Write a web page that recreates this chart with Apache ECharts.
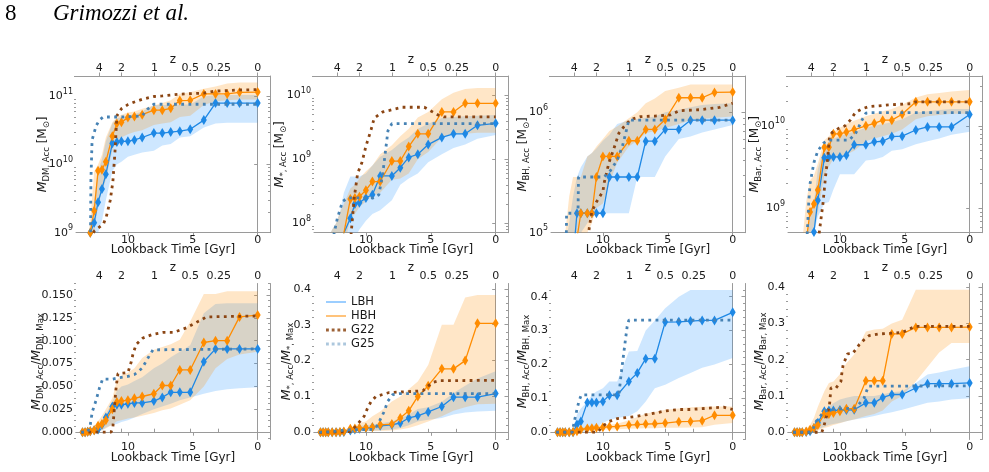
<!DOCTYPE html>
<html>
<head>
<meta charset="utf-8">
<title>Grimozzi et al. - accreted mass</title>
<script src="https://cdn.jsdelivr.net/npm/echarts@6/dist/echarts.min.js"></script>
<style>
  html, body { margin: 0; padding: 0; background: #fff; }
  #main { width: 989px; height: 472px; }
</style>
</head>
<body>
<div id="main"></div>
<script>
// lookback time of the simulation snapshots [Gyr]
var snapT = [13.5, 13.3, 13.1, 12.9, 12.6, 12.3, 12.0, 11.7, 11.2, 10.85, 10.5, 10.0, 9.5, 8.9, 8.0, 7.35, 6.7, 6.0, 5.2, 4.15, 3.25, 2.35, 1.4, 0];
// redshift ticks on the top axis
var zTickT = [12.2, 10.5, 7.95, 5.2, 3.0, 0];
var zTickLabels = ['4', '2', '1', '0.5', '0.25', '0'];

// ---- M_DM,Acc
var dmAccLBH = [1e8, 2e8, 4e8, 1.0e9, 1.4e9, 2.8e9, 4.4e9, 7.2e9, 2.05e10, 2.15e10, 2.2e10, 2.2e10, 2.3e10, 2.5e10, 2.9e10, 2.9e10, 3.0e10, 3.1e10, 3.3e10, 4.5e10, 8.0e10, 8.0e10, 8.0e10, 8.0e10];
var dmAccHBH = [1e8, 2e8, 5e8, 1.0e9, 2.1e9, 8.1e9, 8.4e9, 1.1e10, 2.6e10, 4.0e10, 4.2e10, 4.9e10, 5.1e10, 5.4e10, 6.3e10, 6.3e10, 6.7e10, 8.7e10, 8.8e10, 1.09e11, 1.09e11, 1.09e11, 1.15e11, 1.16e11];
var dmAccLBHLo = [3e7, 6e7, 1.5e8, 4e8, 7e8, 1.0e9, 1.5e9, 3.0e9, 8e9, 1.0e10, 1.1e10, 1.3e10, 1.4e10, 1.5e10, 1.6e10, 1.9e10, 2.0e10, 2.5e10, 2.6e10, 3.5e10, 4.0e10, 4.1e10, 4.1e10, 4.1e10];
var dmAccLBHHi = [3e8, 5e8, 8e8, 1.2e9, 3e9, 8e9, 1.2e10, 2.2e10, 4.0e10, 4.8e10, 5.0e10, 5.2e10, 5.5e10, 6.0e10, 7.5e10, 7.5e10, 7.5e10, 7.6e10, 7.6e10, 1.0e11, 1.05e11, 1.05e11, 1.05e11, 1.05e11];
var dmAccHBHLo = [3e7, 6e7, 1.5e8, 6e8, 1.0e9, 2.5e9, 4e9, 6e9, 1.6e10, 2.3e10, 2.5e10, 2.8e10, 3.0e10, 3.2e10, 3.8e10, 4.0e10, 4.2e10, 5.0e10, 5.2e10, 7.5e10, 8.5e10, 8.8e10, 9e10, 9e10];
var dmAccHBHHi = [3e8, 5e8, 8e8, 1.5e9, 8e9, 1.0e10, 1.4e10, 2.5e10, 4.2e10, 5.0e10, 5.4e10, 5.8e10, 6.0e10, 6.6e10, 7.4e10, 8.0e10, 8.8e10, 1.1e11, 1.15e11, 1.3e11, 1.4e11, 1.55e11, 1.6e11, 1.6e11];
var g22tDmAcc = [12.9, 12.57, 11.88, 11.67, 11.36, 11.16, 11.0, 10.85, 10.5, 10.0, 9.5, 8.9, 8.0, 7.35, 6.7, 6.0, 5.2, 4.15, 3.25, 2.35, 1.4, 0];
var g22DmAcc = [8e8, 1.07e9, 1.35e9, 1.7e9, 3.0e9, 5.6e9, 1.5e10, 5.2e10, 6.6e10, 7.6e10, 8.3e10, 9.1e10, 1.0e11, 1.02e11, 1.05e11, 1.08e11, 1.1e11, 1.12e11, 1.2e11, 1.22e11, 1.25e11, 1.26e11];
var g25tDmAcc = [13.0, 12.88, 12.85, 12.76, 12.45, 12.2, 11.9, 11.2, 10.5, 9.5, 8.9, 8.5, 8.0, 0];
var g25DmAcc = [3e8, 1e9, 6e9, 2.3e10, 3.7e10, 4.5e10, 5.0e10, 5.0e10, 5.0e10, 5.1e10, 5.2e10, 6.5e10, 7.7e10, 7.7e10];

// ---- M_*,Acc
var starAccLBH = [1e7, 1.5e7, 2e7, 2.5e7, 3e7, 4e7, 5e7, 7e7, 1.2e8, 2.0e8, 2.1e8, 2.5e8, 2.8e8, 5.5e8, 5.5e8, 7.4e8, 1.07e9, 1.2e9, 1.7e9, 2.2e9, 2.5e9, 2.5e9, 3.4e9, 3.65e9];
var starAccHBH = [1e7, 1.5e7, 2e7, 2.5e7, 3e7, 4e7, 5e7, 7e7, 2.4e8, 2.5e8, 2.6e8, 3.3e8, 4.5e8, 4.5e8, 9.4e8, 9.4e8, 1.58e9, 2.5e9, 2.5e9, 5.5e9, 5.5e9, 7.5e9, 7.5e9, 7.5e9];
var starAccLBHLo = [5e6, 8e6, 1e7, 1.5e7, 2e7, 2.5e7, 3e7, 4e7, 5e7, 6e7, 8e7, 1.1e8, 1.4e8, 1.6e8, 2.3e8, 4e8, 5e8, 6e8, 9e8, 1.2e9, 1.5e9, 1.7e9, 2.1e9, 2.4e9];
var starAccLBHHi = [3e7, 4e7, 5e7, 6e7, 8e7, 1e8, 1.5e8, 3e8, 5.4e8, 5.4e8, 5.4e8, 6e8, 8e8, 1.1e9, 1.4e9, 1.8e9, 2.2e9, 3e9, 3.6e9, 4.4e9, 4.6e9, 4.7e9, 4.8e9, 4.9e9];
var starAccHBHLo = [5e6, 8e6, 1e7, 1.5e7, 2e7, 2.5e7, 3e7, 4e7, 1.2e8, 1.4e8, 1.8e8, 2.2e8, 2.7e8, 3e8, 4.8e8, 5e8, 6e8, 1.0e9, 1.3e9, 2.2e9, 2.5e9, 2.5e9, 2.6e9, 2.6e9];
var starAccHBHHi = [3e7, 4e7, 5e7, 6e7, 8e7, 1e8, 1.5e8, 2e8, 3.5e8, 4e8, 5e8, 6.5e8, 8e8, 1.2e9, 1.66e9, 2.3e9, 3.0e9, 4.5e9, 5.5e9, 8.7e9, 1.1e10, 1.25e10, 1.3e10, 1.3e10];
var g22tStarAcc = [11.2, 10.9, 10.64, 10.3, 10.0, 9.6, 9.36, 8.7, 7.2, 5.5, 4.5, 4.0, 0];
var g22StarAcc = [5e7, 2.5e8, 6e8, 9e8, 1.6e9, 2.9e9, 4.4e9, 5.5e9, 6.5e9, 6.5e9, 5.0e9, 4.6e9, 4.6e9];
var g25tStarAcc = [12.6, 12.2, 11.8, 11.4, 9.4, 9.0, 8.7, 8.5, 8.3, 8.0, 0];
var g25StarAcc = [5e7, 1.2e8, 2.2e8, 2.5e8, 2.5e8, 2.8e8, 6e8, 1.3e9, 2.8e9, 3.6e9, 3.6e9];

// ---- M_BH,Acc
var bhAccLBH = [2e4, 2.5e4, 3e4, 4e4, 5e4, 6e4, 1.45e5, 1.45e5, 1.45e5, 1.45e5, 1.45e5, 1.45e5, 2.9e5, 2.9e5, 2.9e5, 2.9e5, 5.75e5, 5.75e5, 7.2e5, 7.2e5, 8.6e5, 8.6e5, 8.6e5, 8.6e5];
var bhAccHBH = [2e4, 2.5e4, 3e4, 4e4, 5e4, 6e4, 9e4, 1.45e5, 1.45e5, 1.45e5, 2.9e5, 4.3e5, 4.3e5, 4.3e5, 5.8e5, 5.8e5, 7.2e5, 7.2e5, 8.7e5, 1.32e6, 1.32e6, 1.32e6, 1.46e6, 1.47e6];
var bhAccLBHLo = [1e4, 1e4, 1.5e4, 2e4, 3e4, 4e4, 7e4, 1.0e5, 1.2e5, 1.45e5, 1.45e5, 1.45e5, 1.45e5, 1.45e5, 1.45e5, 2.9e5, 2.9e5, 2.9e5, 4.3e5, 6.0e5, 6.3e5, 6.8e5, 7.2e5, 7.85e5];
var bhAccLBHHi = [3e4, 4e4, 6e4, 8e4, 1.2e5, 2e5, 2.9e5, 3.5e5, 4.3e5, 4.6e5, 5e5, 5.8e5, 6.5e5, 8e5, 8.6e5, 8.8e5, 9e5, 9.2e5, 1.0e6, 1.05e6, 1.1e6, 1.15e6, 1.17e6, 1.19e6];
var bhAccHBHLo = [1e4, 1e4, 1.5e4, 2e4, 3e4, 4e4, 6e4, 8e4, 1.0e5, 1.2e5, 1.6e5, 1.75e5, 2.6e5, 3.8e5, 5.2e5, 5.8e5, 6.7e5, 7.0e5, 7.4e5, 8e5, 8.6e5, 8.8e5, 9e5, 9.2e5];
var bhAccHBHHi = [3e4, 4e4, 6e4, 1e5, 2e5, 2.9e5, 2.9e5, 2.9e5, 4.3e5, 4.6e5, 5.2e5, 6.0e5, 7.0e5, 7.6e5, 8.9e5, 1.0e6, 1.19e6, 1.3e6, 1.5e6, 1.6e6, 1.7e6, 1.7e6, 1.7e6, 1.7e6];
var g22tBhAcc = [11.3, 11.0, 10.85, 10.5, 10.0, 9.9, 9.54, 9.15, 8.77, 8.38, 7.87, 7.1, 6.0, 4.8, 4.1, 2.5, 1.0, 0];
var g22BhAcc = [7e4, 1.2e5, 1.5e5, 1.8e5, 2.2e5, 2.6e5, 3.8e5, 5.0e5, 6.7e5, 7.6e5, 8.7e5, 9.2e5, 9.3e5, 9.5e5, 1.03e6, 1.05e6, 1.1e6, 1.19e6];
var g25tBhAcc = [12.85, 12.8, 12.3, 11.92, 11.88, 9.9, 9.4, 8.9, 8.5, 8.2, 8.0, 0];
var g25BhAcc = [5e4, 1.45e5, 1.45e5, 1.45e5, 2.9e5, 2.9e5, 3.3e5, 4.0e5, 5.2e5, 7.0e5, 8.6e5, 8.6e5];

// ---- M_Bar,Acc
var barAccLBH = [5e7, 8e7, 1e8, 1.5e8, 2e8, 3e8, 5.2e8, 1.26e9, 4.1e9, 4.2e9, 4.2e9, 4.2e9, 4.4e9, 5.9e9, 5.9e9, 6.4e9, 6.5e9, 7.4e9, 7.5e9, 8.9e9, 9.7e9, 9.7e9, 9.7e9, 1.37e10];
var barAccHBH = [5e7, 8e7, 1e8, 2e8, 4e8, 9.1e8, 1.13e9, 1.67e9, 5.5e9, 5.5e9, 8.0e9, 8.0e9, 8.4e9, 9.0e9, 1.0e10, 1.07e10, 1.17e10, 1.17e10, 1.38e10, 1.95e10, 1.95e10, 1.95e10, 1.95e10, 1.95e10];
var barAccLBHLo = [2e7, 3e7, 5e7, 8e7, 1.5e8, 3e8, 5e8, 8e8, 1.15e9, 1.2e9, 1.7e9, 2.6e9, 2.6e9, 2.6e9, 3.8e9, 3.9e9, 4.2e9, 5e9, 5.2e9, 6e9, 6.5e9, 7e9, 7.8e9, 8.5e9];
var barAccLBHHi = [5e7, 8e7, 1e8, 2e8, 4e8, 8e8, 1.2e9, 3e9, 5.5e9, 6.5e9, 7e9, 7.5e9, 8e9, 8.5e9, 9.5e9, 1.0e10, 1.05e10, 1.1e10, 1.2e10, 1.45e10, 1.5e10, 1.55e10, 1.6e10, 1.6e10];
var barAccHBHLo = [3e7, 5e7, 8e7, 1e8, 2e8, 5e8, 6e8, 9e8, 2.5e9, 3.2e9, 4e9, 4.3e9, 4.5e9, 5e9, 6.5e9, 7e9, 7.5e9, 8e9, 9e9, 1.2e10, 1.3e10, 1.35e10, 1.4e10, 1.4e10];
var barAccHBHHi = [1e8, 1.5e8, 2.5e8, 4e8, 1.2e9, 2.2e9, 2.5e9, 3.5e9, 6.7e9, 7.5e9, 8.5e9, 9.5e9, 1.05e10, 1.15e10, 1.3e10, 1.4e10, 1.5e10, 1.6e10, 1.8e10, 2.2e10, 2.4e10, 2.5e10, 2.6e10, 2.7e10];
var g22tBarAcc = [11.6, 11.3, 11.1, 10.95, 10.8, 10.6, 10.1, 9.6, 9.2, 8.8, 8.3, 7.8, 6.0, 4.5, 4.15, 0];
var g22BarAcc = [5e8, 1.17e9, 2.5e9, 4e9, 7.4e9, 8.3e9, 9.3e9, 1e10, 1.17e10, 1.45e10, 1.6e10, 1.7e10, 1.8e10, 1.85e10, 1.95e10, 1.95e10];
var g25tBarAcc = [12.55, 12.47, 12.4, 12.3, 12.0, 11.7, 11.25, 10.9, 9.3, 8.8, 8.3, 8.0, 7.75, 0];
var g25BarAcc = [4e8, 7e8, 1.2e9, 2e9, 3.6e9, 5e9, 6.2e9, 6.7e9, 6.7e9, 8e9, 1.17e10, 1.42e10, 1.44e10, 1.44e10];

// ---- M_DM,Acc / M_DM,Max
var dmFracLBH = [0, 0, 0.0005, 0.001, 0.002, 0.003, 0.008, 0.016, 0.028, 0.030, 0.030, 0.031, 0.032, 0.032, 0.034, 0.038, 0.0436, 0.0436, 0.0436, 0.077, 0.091, 0.091, 0.091, 0.091];
var dmFracHBH = [0, 0, 0.0005, 0.001, 0.002, 0.007, 0.009, 0.013, 0.025, 0.033, 0.034, 0.035, 0.037, 0.039, 0.042, 0.051, 0.051, 0.068, 0.068, 0.098, 0.1, 0.1, 0.126, 0.128];
var dmFracLBHLo = [0, 0, 0, 0, 0.0005, 0.001, 0.002, 0.005, 0.008, 0.009, 0.011, 0.013, 0.016, 0.02, 0.025, 0.028, 0.031, 0.035, 0.038, 0.042, 0.045, 0.047, 0.048, 0.049];
var dmFracLBHHi = [0.001, 0.001, 0.002, 0.003, 0.005, 0.008, 0.012, 0.02, 0.033, 0.045, 0.05, 0.052, 0.056, 0.06, 0.07, 0.075, 0.082, 0.088, 0.095, 0.13, 0.14, 0.141, 0.141, 0.141];
var dmFracHBHLo = [0, 0, 0, 0, 0.0005, 0.001, 0.002, 0.004, 0.008, 0.012, 0.013, 0.015, 0.016, 0.018, 0.021, 0.024, 0.026, 0.03, 0.035, 0.05, 0.07, 0.08, 0.085, 0.088];
var dmFracHBHHi = [0.001, 0.001, 0.002, 0.004, 0.006, 0.012, 0.018, 0.025, 0.037, 0.057, 0.062, 0.065, 0.07, 0.081, 0.09, 0.093, 0.096, 0.101, 0.121, 0.151, 0.151, 0.154, 0.154, 0.154];
var g22tDmFrac = [13.6, 11.3, 11.16, 11.0, 10.9, 10.77, 10.0, 9.74, 9.6, 9.36, 8.84, 8.07, 7.3, 6.5, 5.5, 4.85, 3.94, 0];
var g22DmFrac = [0, 0, 0.005, 0.034, 0.05, 0.064, 0.065, 0.077, 0.086, 0.096, 0.103, 0.107, 0.109, 0.109, 0.114, 0.119, 0.126, 0.127];
var g25tDmFrac = [13.6, 13.1, 12.9, 12.75, 12.45, 12.2, 11.95, 11.2, 10.5, 10.0, 9.5, 8.9, 8.5, 8.07, 0];
var g25DmFrac = [0, 0, 0.008, 0.022, 0.035, 0.048, 0.058, 0.058, 0.06, 0.061, 0.063, 0.07, 0.08, 0.09, 0.091];

// ---- M_*,Acc / M_*,Max
var starFracLBH = [0, 0, 0, 0, 0, 0, 0, 0.001, 0.005, 0.008, 0.01, 0.012, 0.014, 0.018, 0.021, 0.026, 0.04, 0.046, 0.057, 0.072, 0.098, 0.098, 0.098, 0.108];
var starFracHBH = [0, 0, 0, 0, 0, 0, 0.001, 0.002, 0.01, 0.011, 0.012, 0.013, 0.014, 0.021, 0.023, 0.04, 0.06, 0.1, 0.13, 0.177, 0.177, 0.2, 0.304, 0.304];
var starFracLBHLo = [0, 0, 0, 0, 0, 0, 0, 0, 0.001, 0.002, 0.003, 0.004, 0.005, 0.006, 0.008, 0.012, 0.02, 0.03, 0.035, 0.04, 0.05, 0.055, 0.058, 0.06];
var starFracLBHHi = [0.001, 0.001, 0.001, 0.002, 0.002, 0.003, 0.004, 0.006, 0.01, 0.015, 0.018, 0.02, 0.022, 0.025, 0.03, 0.04, 0.05, 0.065, 0.07, 0.085, 0.11, 0.13, 0.15, 0.17];
var starFracHBHLo = [0, 0, 0, 0, 0, 0, 0, 0, 0.002, 0.002, 0.003, 0.003, 0.004, 0.004, 0.005, 0.008, 0.012, 0.02, 0.03, 0.045, 0.06, 0.07, 0.078, 0.08];
var starFracHBHHi = [0.001, 0.001, 0.002, 0.002, 0.003, 0.004, 0.005, 0.008, 0.012, 0.018, 0.026, 0.03, 0.045, 0.058, 0.086, 0.1, 0.12, 0.142, 0.188, 0.3, 0.3, 0.376, 0.383, 0.383];
var g22tStarFrac = [13.6, 11.2, 10.77, 10.13, 9.87, 9.6, 9.23, 8.2, 6.4, 5.6, 5.24, 4.86, 4.34, 0];
var g22StarFrac = [0, 0.002, 0.017, 0.045, 0.068, 0.086, 0.1, 0.111, 0.114, 0.116, 0.128, 0.139, 0.144, 0.145];
var g25tStarFrac = [13.6, 12.5, 11.5, 9.5, 9.2, 8.97, 8.59, 8.33, 7.94, 7.4, 0];
var g25StarFrac = [0, 0.002, 0.007, 0.008, 0.015, 0.03, 0.058, 0.086, 0.105, 0.108, 0.108];

// ---- M_BH,Acc / M_BH,Max
var bhFracLBH = [0, 0, 0, 0, 0, 0, 0.0225, 0.032, 0.088, 0.088, 0.088, 0.091, 0.109, 0.109, 0.15, 0.175, 0.217, 0.217, 0.325, 0.326, 0.328, 0.33, 0.33, 0.354];
var bhFracHBH = [0, 0, 0, 0, 0, 0.001, 0.003, 0.008, 0.011, 0.012, 0.013, 0.015, 0.016, 0.017, 0.021, 0.0225, 0.024, 0.025, 0.027, 0.031, 0.032, 0.034, 0.05, 0.05];
var bhFracLBHLo = [0, 0, 0, 0, 0, 0, 0, 0, 0.003, 0.008, 0.015, 0.028, 0.036, 0.042, 0.048, 0.062, 0.091, 0.13, 0.14, 0.16, 0.175, 0.19, 0.2, 0.219];
var bhFracLBHHi = [0, 0, 0, 0, 0, 0.01, 0.052, 0.07, 0.09, 0.11, 0.12, 0.13, 0.15, 0.15, 0.238, 0.24, 0.3, 0.33, 0.366, 0.4, 0.42, 0.42, 0.42, 0.42];
var bhFracHBHLo = [0, 0, 0, 0, 0, 0, 0.001, 0.003, 0.005, 0.006, 0.007, 0.008, 0.008, 0.009, 0.01, 0.011, 0.012, 0.012, 0.013, 0.013, 0.014, 0.015, 0.022, 0.027];
var bhFracHBHHi = [0, 0, 0, 0, 0, 0.003, 0.008, 0.012, 0.018, 0.02, 0.02, 0.021, 0.022, 0.025, 0.035, 0.045, 0.055, 0.06, 0.066, 0.07, 0.074, 0.075, 0.076, 0.076];
var g22tBhFrac = [13.6, 10.4, 10.0, 9.5, 8.9, 8.0, 7.36, 6.3, 5.3, 4.15, 3.26, 2.2, 0.7, 0];
var g22BhFrac = [0, 0, 0.018, 0.032, 0.04, 0.044, 0.047, 0.054, 0.062, 0.067, 0.067, 0.07, 0.074, 0.067];
var g25tBhFrac = [13.6, 12.36, 12.23, 12.03, 11.85, 11.67, 8.77, 8.6, 8.44, 8.28, 8.13, 8.0, 0];
var g25BhFrac = [0, 0, 0.027, 0.062, 0.091, 0.11, 0.11, 0.17, 0.219, 0.268, 0.312, 0.331, 0.331];

// ---- M_Bar,Acc / M_Bar,Max
var barFracLBH = [0, 0, 0, 0, 0.001, 0.003, 0.012, 0.026, 0.058, 0.06, 0.06, 0.061, 0.061, 0.062, 0.081, 0.081, 0.096, 0.104, 0.104, 0.122, 0.134, 0.134, 0.134, 0.136];
var barFracHBH = [0, 0, 0, 0, 0.002, 0.007, 0.012, 0.02, 0.05, 0.05, 0.053, 0.058, 0.065, 0.065, 0.142, 0.142, 0.142, 0.271, 0.271, 0.289, 0.289, 0.289, 0.289, 0.29];
var barFracLBHLo = [0, 0, 0, 0, 0, 0, 0.002, 0.008, 0.015, 0.02, 0.023, 0.026, 0.03, 0.035, 0.04, 0.045, 0.05, 0.055, 0.062, 0.072, 0.081, 0.085, 0.09, 0.094];
var barFracLBHHi = [0, 0, 0.001, 0.003, 0.006, 0.01, 0.02, 0.035, 0.058, 0.07, 0.08, 0.09, 0.095, 0.1, 0.1, 0.1, 0.105, 0.11, 0.113, 0.136, 0.159, 0.165, 0.172, 0.182];
var barFracHBHLo = [0, 0, 0, 0, 0, 0.001, 0.002, 0.005, 0.012, 0.015, 0.02, 0.025, 0.03, 0.035, 0.045, 0.05, 0.06, 0.085, 0.1, 0.14, 0.18, 0.22, 0.246, 0.246];
var barFracHBHHi = [0, 0.001, 0.002, 0.005, 0.01, 0.02, 0.04, 0.07, 0.113, 0.136, 0.14, 0.16, 0.19, 0.214, 0.278, 0.283, 0.285, 0.3, 0.31, 0.393, 0.393, 0.393, 0.393, 0.393];
var g22tBarFrac = [13.6, 11.4, 11.27, 11.07, 10.81, 10.69, 10.3, 9.92, 9.85, 9.75, 9.41, 9.03, 8.78, 8.52, 8.14, 7.76, 7.0, 5.98, 5.2, 4.2, 0];
var g22BarFrac = [0, 0, 0.012, 0.039, 0.072, 0.122, 0.122, 0.14, 0.163, 0.186, 0.216, 0.217, 0.228, 0.241, 0.255, 0.266, 0.271, 0.273, 0.275, 0.292, 0.292];
var g25tBarFrac = [13.6, 12.3, 12.09, 11.83, 11.45, 11.2, 10.81, 8.78, 8.14, 7.81, 0];
var g25BarFrac = [0, 0, 0.007, 0.03, 0.047, 0.058, 0.062, 0.067, 0.094, 0.127, 0.128];

var C_LBH = '#1e88e5', C_HBH = '#ff8c00', C_G22 = '#8b4513', C_G25 = '#4682b4';
var F_LBH = 'rgba(30,144,255,0.22)', F_HBH = 'rgba(255,140,0,0.22)';
var AXIS_C = '#9a9a9a', TEXT_C = '#1a1a1a';
var FONT = 'DejaVu Sans';

function accName(sub) { return '{m|M}{s|' + sub + ', Acc} {n|[M}{s|⊙}{n|]}'; }
function fracName(sub) { return '{m|M}{s|' + sub + ', Acc}{n|/}{m|M}{s|' + sub + ', Max}'; }

var panels = [
  { log: true, yMin: 1e9, yMax: 2e11, name: accName('DM'), gap: 25,
    lbh: dmAccLBH, hbh: dmAccHBH, lbhLo: dmAccLBHLo, lbhHi: dmAccLBHHi, hbhLo: dmAccHBHLo, hbhHi: dmAccHBHHi,
    g22t: g22tDmAcc, g22: g22DmAcc, g25t: g25tDmAcc, g25: g25DmAcc },
  { log: true, yMin: 7.15e7, yMax: 2e10, name: accName('*'), gap: 26,
    lbh: starAccLBH, hbh: starAccHBH, lbhLo: starAccLBHLo, lbhHi: starAccLBHHi, hbhLo: starAccHBHLo, hbhHi: starAccHBHHi,
    g22t: g22tStarAcc, g22: g22StarAcc, g25t: g25tStarAcc, g25: g25StarAcc },
  { log: true, yMin: 1e5, yMax: 2e6, name: accName('BH'), gap: 20,
    lbh: bhAccLBH, hbh: bhAccHBH, lbhLo: bhAccLBHLo, lbhHi: bhAccLBHHi, hbhLo: bhAccHBHLo, hbhHi: bhAccHBHHi,
    g22t: g22tBhAcc, g22: g22BhAcc, g25t: g25tBhAcc, g25: g25BhAcc },
  { log: true, yMin: 5.1e8, yMax: 4e10, name: accName('Bar'), gap: 25,
    lbh: barAccLBH, hbh: barAccHBH, lbhLo: barAccLBHLo, lbhHi: barAccLBHHi, hbhLo: barAccHBHLo, hbhHi: barAccHBHHi,
    g22t: g22tBarAcc, g22: g22BarAcc, g25t: g25tBarAcc, g25: g25BarAcc },
  { log: false, yMin: -0.008, yMax: 0.1625, step: 0.025, minorStep: 0.00625, digits: 3, name: fracName('DM'), gap: 31,
    lbh: dmFracLBH, hbh: dmFracHBH, lbhLo: dmFracLBHLo, lbhHi: dmFracLBHHi, hbhLo: dmFracHBHLo, hbhHi: dmFracHBHHi,
    g22t: g22tDmFrac, g22: g22DmFrac, g25t: g25tDmFrac, g25: g25DmFrac },
  { log: false, yMin: -0.02, yMax: 0.415, step: 0.1, minorStep: 0.02, digits: 1, name: fracName('*'), gap: 19,
    lbh: starFracLBH, hbh: starFracHBH, lbhLo: starFracLBHLo, lbhHi: starFracLBHHi, hbhLo: starFracHBHLo, hbhHi: starFracHBHHi,
    g22t: g22tStarFrac, g22: g22StarFrac, g25t: g25tStarFrac, g25: g25StarFrac },
  { log: false, yMin: -0.0215, yMax: 0.439, step: 0.1, minorStep: 0.02, digits: 1, name: fracName('BH'), gap: 20,
    lbh: bhFracLBH, hbh: bhFracHBH, lbhLo: bhFracLBHLo, lbhHi: bhFracLBHHi, hbhLo: bhFracHBHLo, hbhHi: bhFracHBHHi,
    g22t: g22tBhFrac, g22: g22BhFrac, g25t: g25tBhFrac, g25: g25BhFrac },
  { log: false, yMin: -0.02, yMax: 0.41, step: 0.1, minorStep: 0.02, digits: 1, name: fracName('Bar'), gap: 20,
    lbh: barFracLBH, hbh: barFracHBH, lbhLo: barFracLBHLo, lbhHi: barFracLBHHi, hbhLo: barFracHBHLo, hbhHi: barFracHBHHi,
    g22t: g22tBarFrac, g22: g22BarFrac, g25t: g25tBarFrac, g25: g25BarFrac }
];

var GRID_LEFT = [76, 314, 551, 788];
var GRID_TOP = [76, 283.5];
var GRID_H = [156.7, 156];
var GRID_W = 194;
var X_MIN = -0.95, X_MAX = 14.0;

function pairs(ts, vs) { return ts.map(function (t, i) { return [t, vs[i]]; }); }
function r6(v) { return Math.round(v * 1e6) / 1e6; }

// tick positions in the "decoration" space (log10 for log panels)
function majorTicks(p, lo, hi) {
  var out = [], k;
  if (p.log) { for (k = Math.ceil(lo); k <= hi; k++) out.push(k); }
  else { for (k = Math.ceil(lo / p.step - 1e-9); k * p.step <= hi + 1e-9; k++) out.push(r6(k * p.step)); }
  return out;
}
function minorTicks(p, lo, hi) {
  var out = [], k, m;
  if (p.log) {
    for (k = Math.floor(lo); k <= Math.ceil(hi); k++) {
      for (m = 2; m <= 9; m++) { var v = k + Math.log10(m); if (v >= lo && v <= hi) out.push(v); }
    }
  } else {
    var n = Math.round(p.step / p.minorStep);
    for (k = Math.ceil(lo / p.minorStep - 1e-9); k * p.minorStep <= hi + 1e-9; k++) {
      if (k % n !== 0) out.push(r6(k * p.minorStep));
    }
  }
  return out;
}

var grids = [], xAxes = [], yAxes = [], series = [];

panels.forEach(function (p, gi) {
  var row = gi < 4 ? 0 : 1, col = gi % 4;
  grids.push({ left: GRID_LEFT[col], top: GRID_TOP[row], width: GRID_W, height: GRID_H[row], outerBoundsMode: 'none' });

  // bottom: lookback time
  xAxes.push({
    gridIndex: gi, type: 'value', position: 'bottom', inverse: true, min: X_MIN, max: X_MAX,
    name: 'Lookback Time [Gyr]', nameLocation: 'middle', nameGap: row === 0 ? 11.5 : 12, nameMoveOverlap: false,
    nameTextStyle: { fontSize: 12, color: TEXT_C, fontFamily: FONT },
    axisLine: { lineStyle: { color: AXIS_C, width: 1 } },
    axisTick: { length: 3.5, inside: false, customValues: [0, 5, 10], lineStyle: { color: AXIS_C } },
    axisLabel: { customValues: [0, 5, 10], margin: 2, fontSize: 11, color: TEXT_C, fontFamily: FONT },
    splitLine: { show: false }
  });
  // top: redshift
  xAxes.push({
    gridIndex: gi, type: 'value', position: 'top', inverse: true, min: X_MIN, max: X_MAX,
    name: 'z', nameLocation: 'middle', nameGap: 10, nameMoveOverlap: false,
    nameTextStyle: { fontSize: 12, color: TEXT_C, fontFamily: FONT },
    axisLine: { lineStyle: { color: AXIS_C, width: 1 } },
    axisTick: { length: 3.5, inside: false, customValues: zTickT, lineStyle: { color: AXIS_C } },
    axisLabel: {
      customValues: zTickT, margin: 2, fontSize: 11, color: TEXT_C, fontFamily: FONT,
      formatter: function (v) {
        var best = 0;
        zTickT.forEach(function (t, i) { if (Math.abs(t - v) < Math.abs(zTickT[best] - v)) best = i; });
        return zTickLabels[best];
      }
    },
    splitLine: { show: false }
  });

  var lo = p.log ? Math.log10(p.yMin) : p.yMin;
  var hi = p.log ? Math.log10(p.yMax) : p.yMax;
  var majors = majorTicks(p, lo, hi), minors = minorTicks(p, lo, hi);

  // data axis (hidden)
  yAxes.push({ gridIndex: gi, type: p.log ? 'log' : 'value', logBase: 10, min: p.yMin, max: p.yMax, show: false, position: 'left' });
  // left major with labels and name
  yAxes.push({
    gridIndex: gi, type: 'value', position: 'left', min: lo, max: hi,
    name: p.name, nameLocation: 'middle', nameGap: p.gap, nameRotate: 90, nameMoveOverlap: false,
    nameTextStyle: {
      color: TEXT_C, fontFamily: FONT,
      rich: {
        m: { fontSize: 12.5, fontStyle: 'italic', fontFamily: FONT, lineHeight: 16, color: TEXT_C },
        s: { fontSize: 8.5, verticalAlign: 'bottom', fontFamily: FONT, color: TEXT_C },
        n: { fontSize: 12, fontFamily: FONT, lineHeight: 16, color: TEXT_C }
      }
    },
    axisLine: { show: true, lineStyle: { color: AXIS_C, width: 1 } },
    axisTick: { length: 3.5, inside: false, customValues: majors, lineStyle: { color: AXIS_C } },
    axisLabel: {
      customValues: majors, margin: 3, color: TEXT_C, fontFamily: FONT, fontSize: 11,
      formatter: p.log
        ? function (v) { return '{b|10}{e|' + Math.round(v) + '}'; }
        : function (v) { return Math.abs(v) < 1e-9 ? (0).toFixed(p.digits) : v.toFixed(p.digits); },
      rich: {
        b: { fontSize: 11, lineHeight: 17, fontFamily: FONT, color: TEXT_C },
        e: { fontSize: 8, verticalAlign: 'top', fontFamily: FONT, color: TEXT_C }
      }
    },
    splitLine: { show: false }
  });
  // left minor ticks
  yAxes.push({
    gridIndex: gi, type: 'value', position: 'left', min: lo, max: hi,
    axisLine: { show: false }, axisLabel: { show: false }, splitLine: { show: false },
    axisTick: { length: 2, inside: false, customValues: minors, lineStyle: { color: AXIS_C } }
  });
  // right major (inward)
  yAxes.push({
    gridIndex: gi, type: 'value', position: 'right', min: lo, max: hi,
    axisLine: { show: true, lineStyle: { color: AXIS_C, width: 1 } }, axisLabel: { show: false }, splitLine: { show: false },
    axisTick: { length: 3.5, inside: true, customValues: majors, lineStyle: { color: AXIS_C } }
  });
  // right minor (inward)
  yAxes.push({
    gridIndex: gi, type: 'value', position: 'right', min: lo, max: hi,
    axisLine: { show: false }, axisLabel: { show: false }, splitLine: { show: false },
    axisTick: { length: 2, inside: true, customValues: minors, lineStyle: { color: AXIS_C } }
  });

  var xi = gi * 2, yi = gi * 5;

  function band(name, loV, hiV, fill) {
    return {
      type: 'custom', name: name, xAxisIndex: xi, yAxisIndex: yi, silent: true, clip: true, z: 1,
      data: [[snapT[0], hiV[0]]],
      renderItem: function (params, api) {
        var pts = [], i;
        for (i = 0; i < snapT.length; i++) pts.push(api.coord([snapT[i], hiV[i]]));
        for (i = snapT.length - 1; i >= 0; i--) pts.push(api.coord([snapT[i], loV[i]]));
        var cs = params.coordSys;
        return {
          type: 'polygon', shape: { points: pts }, style: { fill: fill },
          clipPath: { type: 'rect', shape: { x: cs.x, y: cs.y, width: cs.width, height: cs.height } }
        };
      }
    };
  }
  function markLine(name, vals, color) {
    return {
      type: 'line', name: name, xAxisIndex: xi, yAxisIndex: yi, data: pairs(snapT, vals), silent: true, clip: true, z: 3,
      symbol: 'diamond', symbolSize: [6, 10], showSymbol: true, showAllSymbol: true,
      itemStyle: { color: color }, lineStyle: { color: color, width: 1.3 }, emphasis: { disabled: true }
    };
  }
  function dotLine(name, ts, vals, color) {
    return {
      type: 'line', name: name, xAxisIndex: xi, yAxisIndex: yi, data: pairs(ts, vals), silent: true, clip: true, z: 4,
      symbol: 'none', itemStyle: { color: color },
      lineStyle: { color: color, width: 2.8, type: [2.8, 4.4], cap: 'butt' }, emphasis: { disabled: true }
    };
  }

  series.push(band('LBH band', p.lbhLo, p.lbhHi, F_LBH));
  series.push(band('HBH band', p.hbhLo, p.hbhHi, F_HBH));
  series.push(markLine('LBH', p.lbh, C_LBH));
  series.push(markLine('HBH', p.hbh, C_HBH));
  series.push(dotLine('G22', p.g22t, p.g22, C_G22));
  series.push(dotLine('G25', p.g25t, p.g25, C_G25));
});

var SOLID_ICON = 'path://M0,0h20v1.6h-20z';
var DOT_ICON = 'path://M0,0h2.8v2.8h-2.8zM5.6,0h2.8v2.8h-2.8zM11.2,0h2.8v2.8h-2.8zM16.8,0h2.8v2.8h-2.8z';

var chart = echarts.init(document.getElementById('main'), null, { renderer: 'canvas' });
chart.setOption({
  animation: false,
  backgroundColor: '#ffffff',
  textStyle: { fontFamily: FONT },
  graphic: [
    { type: 'text', left: 5, top: 2, style: { text: '8', font: '23px "Liberation Serif"', fill: '#000' } },
    { type: 'text', left: 53, top: 2, style: { text: 'Grimozzi et al.', font: 'italic 23px "Liberation Serif"', fill: '#000' } }
  ],
  legend: {
    left: 321, top: 291, orient: 'vertical', itemWidth: 20, itemHeight: 10, itemGap: 2, selectedMode: false,
    textStyle: { fontSize: 11.5, color: TEXT_C, fontFamily: FONT },
    itemStyle: { borderWidth: 0 },
    data: [
      { name: 'LBH', icon: SOLID_ICON, itemStyle: { color: 'rgba(30,144,255,0.55)' } },
      { name: 'HBH', icon: SOLID_ICON, itemStyle: { color: 'rgba(255,140,0,0.65)' } },
      { name: 'G22', icon: DOT_ICON, itemStyle: { color: 'rgba(139,69,19,0.85)' } },
      { name: 'G25', icon: DOT_ICON, itemStyle: { color: 'rgba(70,130,180,0.45)' } }
    ]
  },
  grid: grids,
  xAxis: xAxes,
  yAxis: yAxes,
  series: series
});
</script>
</body>
</html>
